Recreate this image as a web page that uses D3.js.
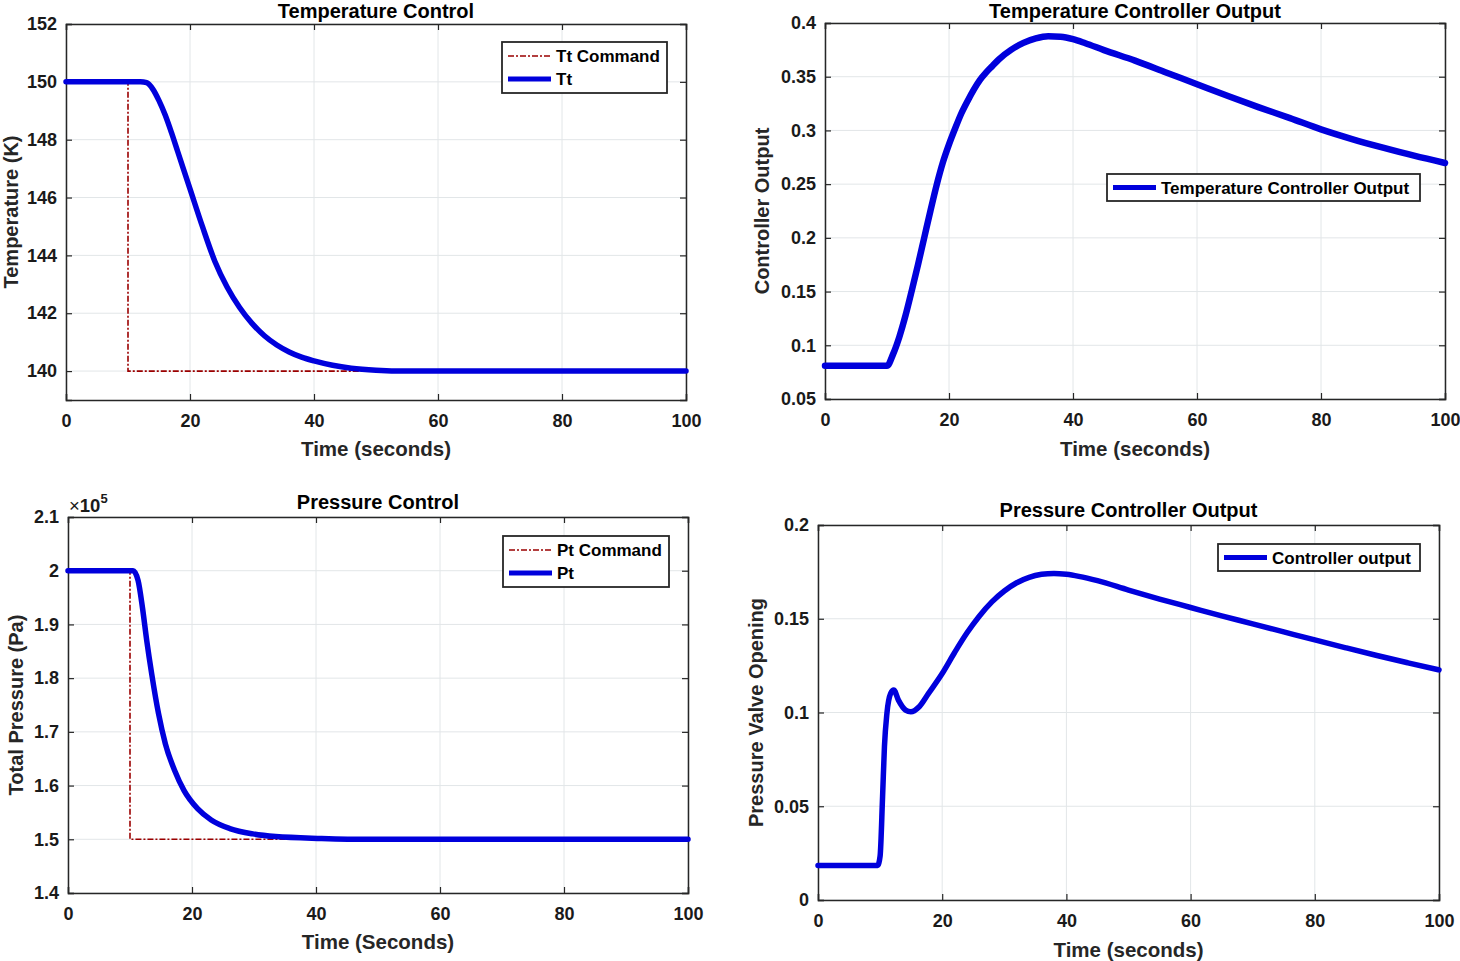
<!DOCTYPE html>
<html><head><meta charset="utf-8">
<script src="https://cdn.jsdelivr.net/npm/d3@7"></script>
<style>
html,body{margin:0;padding:0;background:#fff;}
svg{display:block;font-family:"Liberation Sans",Arial,sans-serif;font-weight:bold;}
</style></head>
<body>
<svg id="chart" width="1460" height="961"></svg>
<script>
// ---------- DATA ----------
const timeTicks = [0, 20, 40, 60, 80, 100];

// Temperature control
const ttTime  = [0, 10, 12, 13, 14, 15, 16, 17, 18, 19, 20, 22, 24, 26, 28, 30, 32, 34, 36, 38, 40, 43, 46, 50, 55, 60, 70, 80, 90, 100];
const ttValue = [150, 150, 150, 149.97, 149.75, 149.35, 148.85, 148.25, 147.6, 146.95, 146.3, 145.0, 143.8, 142.9, 142.2, 141.65, 141.22, 140.9, 140.66, 140.48, 140.35, 140.2, 140.1, 140.03, 140.0, 140.0, 140.0, 140.0, 140.0, 140.0];
const ttCmdTime  = [0, 10, 10, 100];
const ttCmdValue = [150, 150, 140, 140];
const tempTicks = [140, 142, 144, 146, 148, 150, 152];

// Temperature controller output
const tcoTime  = [0, 10, 11, 12, 13, 14, 15, 16, 17, 18, 19, 20, 21, 22, 23, 24, 25, 26, 27, 28, 30, 32, 34, 36, 38, 40, 42, 45, 50, 55, 60, 65, 70, 75, 80, 85, 90, 95, 100];
const tcoValue = [0.081, 0.081, 0.092, 0.108, 0.128, 0.151, 0.175, 0.200, 0.225, 0.249, 0.270, 0.287, 0.302, 0.316, 0.3275, 0.338, 0.347, 0.354, 0.360, 0.366, 0.375, 0.3815, 0.3856, 0.3876, 0.3872, 0.3850, 0.3812, 0.3748, 0.3650, 0.3540, 0.3430, 0.3320, 0.3215, 0.3115, 0.3010, 0.2920, 0.2840, 0.2765, 0.2697];
const tcoTicks = [0.05, 0.1, 0.15, 0.2, 0.25, 0.3, 0.35, 0.4];

// Pressure control (Pa)
const ptTime  = [0, 10.5, 11.3, 12, 12.7, 13.5, 14.6, 15.7, 17.2, 18.7, 20.9, 23.1, 26.1, 29.8, 33.5, 40.9, 48.3, 60, 80, 100];
const ptValue = [200000, 200000, 198200, 193200, 187000, 180800, 173400, 167800, 162800, 159100, 155700, 153600, 152000, 151000, 150500, 150160, 150000, 150000, 150000, 150000];
const ptCmdTime  = [0, 10, 10, 100];
const ptCmdValue = [200000, 200000, 150000, 150000];
const presTicks = [140000, 150000, 160000, 170000, 180000, 190000, 200000, 210000];

// Pressure controller output
const pcoTime  = [0, 9.6, 10, 10.4, 10.7, 11.1, 11.7, 12.2, 12.95, 14.1, 14.95, 16.3, 17.8, 20, 22, 24, 26, 28, 30, 32, 34, 36, 38, 40, 42, 45, 50, 55, 60, 65, 70, 75, 80, 85, 90, 95, 100];
const pcoValue = [0.0184, 0.0184, 0.0234, 0.0553, 0.0818, 0.0996, 0.1102, 0.112, 0.1066, 0.1013, 0.1004, 0.1031, 0.1102, 0.1208, 0.1320, 0.1425, 0.1515, 0.1590, 0.1648, 0.1692, 0.1721, 0.1737, 0.1742, 0.1737, 0.1726, 0.1703, 0.1653, 0.1605, 0.1560, 0.1515, 0.1473, 0.1430, 0.1387, 0.1345, 0.1304, 0.1265, 0.1227];
const pcoTicks = [0, 0.05, 0.1, 0.15, 0.2];

// ---------- DRAWING ----------
const svg = d3.select("#chart");
const BLUE = "#0000dc", RED = "#9b0000", FRAME = "#262626", GRID = "#e2e6e8";

function zip(xs, ys){ return xs.map((x,i)=>({x:x, y:ys[i]})); }

function panel(cfg, idx){
  const x = d3.scaleLinear().domain([0,100]).range([cfg.left, cfg.right]);
  const y = d3.scaleLinear().domain(cfg.ydom).range([cfg.bottom, cfg.top]);
  const g = svg.append("g");
  const clipId = "clip"+idx;
  g.append("clipPath").attr("id", clipId).append("rect")
    .attr("x", cfg.left).attr("y", cfg.top).attr("width", cfg.right-cfg.left).attr("height", cfg.bottom-cfg.top);

  // grid
  g.selectAll(".gx").data(timeTicks).enter().append("line")
    .attr("x1", d=>x(d)).attr("x2", d=>x(d)).attr("y1", cfg.top).attr("y2", cfg.bottom)
    .attr("stroke", GRID).attr("stroke-width", 1);
  g.selectAll(".gy").data(cfg.yticks).enter().append("line")
    .attr("x1", cfg.left).attr("x2", cfg.right).attr("y1", d=>y(d)).attr("y2", d=>y(d))
    .attr("stroke", GRID).attr("stroke-width", 1);

  // axes with inward ticks
  const tl = 6;
  const axB = d3.axisBottom(x).tickValues(timeTicks).tickSize(-tl).tickPadding(14).tickFormat(d3.format("d"));
  const axT = d3.axisTop(x).tickValues(timeTicks).tickSize(-tl).tickFormat("");
  const axL = d3.axisLeft(y).tickValues(cfg.yticks).tickSize(-tl).tickPadding(9).tickFormat(cfg.yfmt);
  const axR = d3.axisRight(y).tickValues(cfg.yticks).tickSize(-tl).tickFormat("");
  const sty = s => { s.select(".domain").attr("stroke", FRAME).attr("stroke-width", 1.5);
    s.selectAll(".tick line").attr("stroke", FRAME).attr("stroke-width", 1.2);
    s.selectAll("text").attr("fill","#1a1a1a").style("font-size","18px").style("font-weight","bold")
      .style("font-family",'"Liberation Sans",Arial,sans-serif'); };
  g.append("g").attr("transform",`translate(0,${cfg.bottom})`).call(axB).call(sty).call(s=>s.selectAll("text").attr("dy","0.71em"));
  g.append("g").attr("transform",`translate(0,${cfg.top})`).call(axT).call(sty);
  g.append("g").attr("transform",`translate(${cfg.left},0)`).call(axL).call(sty);
  g.append("g").attr("transform",`translate(${cfg.right},0)`).call(axR).call(sty);
  g.selectAll(".domain").attr("fill","none");

  // lines
  const lineSmooth = d3.line().x(d=>x(d.x)).y(d=>y(d.y)).curve(d3.curveMonotoneX);
  const lineStep = d3.line().x(d=>x(d.x)).y(d=>y(d.y));
  const lg = g.append("g").attr("clip-path",`url(#${clipId})`);
  cfg.series.forEach(s=>{
    if(s.cmd){
      lg.append("path").attr("d", lineStep(zip(s.t, s.v))).attr("fill","none")
        .attr("stroke", RED).attr("stroke-width", 1.6).attr("stroke-dasharray","6,2,2,2");
    }
  });
  cfg.series.forEach(s=>{
    if(!s.cmd){
      g.append("path").attr("d", lineSmooth(zip(s.t, s.v))).attr("fill","none")
        .attr("stroke", BLUE).attr("stroke-width", cfg.lw || 5.5).attr("stroke-linecap","round").attr("stroke-linejoin","round");
    }
  });

  // title & labels
  const cx = (cfg.left+cfg.right)/2, cy = (cfg.top+cfg.bottom)/2;
  svg.append("text").attr("x", cx).attr("y", cfg.titleY).attr("text-anchor","middle")
    .style("font-size","20px").attr("fill","#000").text(cfg.title);
  svg.append("text").attr("x", cx).attr("y", cfg.xlabY).attr("text-anchor","middle")
    .style("font-size","20.5px").attr("fill","#262626").text(cfg.xlab);
  svg.append("text").attr("transform",`translate(${cfg.ylabX},${cy}) rotate(-90)`).attr("text-anchor","middle")
    .style("font-size","20px").attr("fill","#262626").text(cfg.ylab);

  // legend
  const L = cfg.legend;
  const leg = svg.append("g");
  leg.append("rect").attr("x", L.x).attr("y", L.y).attr("width", L.w).attr("height", L.h)
    .attr("fill","#fff").attr("stroke", FRAME).attr("stroke-width", 1.8);
  L.items.forEach((it,i)=>{
    const yy = L.y + L.rowY[i];
    leg.append("line").attr("x1", L.x+6).attr("x2", L.x+49).attr("y1", yy).attr("y2", yy)
      .attr("stroke", it.cmd?RED:BLUE).attr("stroke-width", it.cmd?1.6:5)
      .attr("stroke-dasharray", it.cmd?"6,2,2,2":null);
    leg.append("text").attr("x", L.x+54).attr("y", yy).attr("dy","0.36em")
      .style("font-size","17px").attr("fill","#000").text(it.label);
  });
  return {x,y};
}

const fmt2 = d => String(+d.toFixed(2));

panel({left:66,right:686,top:24,bottom:400,ydom:[139,152],yticks:tempTicks,yfmt:d3.format("d"),
  title:"Temperature Control", titleY:18, xlab:"Time (seconds)", xlabY:456, ylab:"Temperature (K)", ylabX:18,
  series:[{cmd:true,t:ttCmdTime,v:ttCmdValue},{t:ttTime,v:ttValue}],
  legend:{x:502,y:42,w:165,h:51,rowY:[14,37],items:[{cmd:true,label:"Tt Command"},{label:"Tt"}]}},0);

panel({left:825,right:1445,top:23,bottom:399,ydom:[0.05,0.4],yticks:tcoTicks,yfmt:fmt2, lw:6.5,
  title:"Temperature Controller Output", titleY:18, xlab:"Time (seconds)", xlabY:456, ylab:"Controller Output", ylabX:769,
  series:[{t:tcoTime,v:tcoValue}],
  legend:{x:1107,y:174,w:313,h:27,rowY:[13.5],items:[{label:"Temperature Controller Output"}]}},1);

panel({left:68,right:688,top:517,bottom:893,ydom:[140000,210000],yticks:presTicks,yfmt:d=>String(+(d/1e5).toFixed(1)),
  title:"Pressure Control", titleY:509, xlab:"Time (Seconds)", xlabY:949, ylab:"Total Pressure (Pa)", ylabX:23,
  series:[{cmd:true,t:ptCmdTime,v:ptCmdValue},{t:ptTime,v:ptValue}],
  legend:{x:503,y:536,w:166,h:51,rowY:[14,37],items:[{cmd:true,label:"Pt Command"},{label:"Pt"}]}},2);

// exponent label
const ex = svg.append("text").attr("x",69).attr("y",512).style("font-size","18.5px").attr("fill","#1a1a1a");
ex.append("tspan").style("font-weight","normal").text("\u00d7");
ex.append("tspan").text("10");
ex.append("tspan").attr("dy",-9).style("font-size","13px").text("5");

panel({left:818,right:1439,top:525,bottom:900,ydom:[0,0.2],yticks:pcoTicks,yfmt:fmt2,
  title:"Pressure Controller Output", titleY:517, xlab:"Time (seconds)", xlabY:957, ylab:"Pressure Valve Opening", ylabX:763,
  series:[{t:pcoTime,v:pcoValue}],
  legend:{x:1218,y:544,w:202,h:27,rowY:[13.5],items:[{label:"Controller output"}]}},3);
</script>
</body></html>
